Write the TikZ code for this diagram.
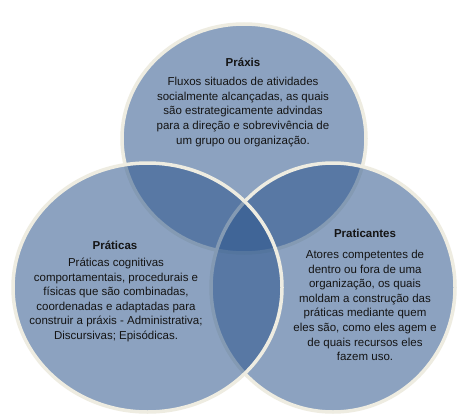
\documentclass[tikz,border=0pt]{standalone}
\usepackage{fontspec}
\setmainfont{Liberation Sans}
\definecolor{vfill}{RGB}{46,87,142}
\definecolor{vline}{RGB}{238,236,225}
\definecolor{vtext}{RGB}{20,20,20}
\tikzset{
  venn/.style={fill=vfill, fill opacity=0.55, draw=vline, line width=3.5pt},
  vtitle/.style={inner sep=0pt, text=vtext, font=\fontsize{11.5}{14.6}\selectfont\bfseries},
  vbody/.style={inner sep=0pt, align=center, text=vtext, font=\fontsize{11.5}{14.6}\selectfont}
}
\begin{document}
\begin{tikzpicture}[x=1pt,y=-1pt]
\fill[white] (0,0) rectangle (473,417);
\useasboundingbox (0,0) rectangle (473,417);
% circles: top, right, left (drawing order)
\draw[venn] (244,138.5) ellipse [x radius=122, y radius=114.5];
\draw[venn] (333,287.5) ellipse [x radius=122, y radius=124.5];
\draw[venn] (147.5,287.5) ellipse [x radius=134.5, y radius=124.5];
% texts
\node[vtitle] (praxisT) at (243,62) {Práxis};
\node[vbody] (praxisB) at (243,112) {Fluxos situados de atividades\\socialmente alcançadas, as quais\\são estrategicamente advindas\\para a direção e sobrevivência de\\um grupo ou organização.};
\node[vtitle] (praticasT) at (115,245) {Práticas};
\node[vbody] (praticasB) at (116,300) {Práticas cognitivas\\comportamentais, procedurais e\\físicas que são combinadas,\\coordenadas e adaptadas para\\construir a práxis - Administrativa;\\Discursivas; Episódicas.};
\node[vtitle] (praticantesT) at (365,233) {Praticantes};
\node[vbody] (praticantesB) at (365,305.5) {Atores competentes de\\dentro ou fora de uma\\organização, os quais\\moldam a construção das\\práticas mediante quem\\eles são, como eles agem e\\de quais recursos eles\\fazem uso.};
\end{tikzpicture}
\end{document}
